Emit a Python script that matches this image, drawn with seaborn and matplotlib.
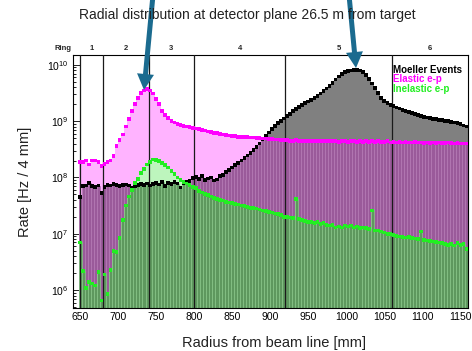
import numpy as np
import pandas as pd
import matplotlib
matplotlib.use("Agg")
import matplotlib.pyplot as plt
import seaborn as sns
from matplotlib.patches import FancyArrow
from matplotlib.transforms import IdentityTransform, blended_transform_factory
from matplotlib.ticker import FixedLocator, MultipleLocator, LogLocator, NullFormatter

sns.set_theme(style="white")
plt.rcParams["font.family"] = ["Liberation Sans", "DejaVu Sans"]
plt.rcParams["mathtext.fontset"] = "custom"
plt.rcParams["mathtext.rm"] = "Liberation Sans"
plt.rcParams["mathtext.it"] = "Liberation Sans:italic"
plt.rcParams["mathtext.bf"] = "Liberation Sans:bold"

# 4 mm radial bins, centres from 650 mm to 1158 mm
BIN_W = 4
radius = np.arange(650, 1160, BIN_W)
edges = list(np.append(radius - BIN_W / 2, radius[-1] + BIN_W / 2))

# Rates per bin [Hz / 4 mm]
moeller = np.array([
    4.5e7, 7.0e7, 7.2e7, 8.0e7, 7.0e7, 6.8e7, 7.2e7, 5.3e7,
    6.8e7, 7.4e7, 7.2e7, 7.6e7, 7.4e7, 7.0e7, 7.3e7, 7.5e7,
    7.2e7, 6.5e7, 7.0e7, 7.3e7, 7.6e7, 7.4e7, 7.8e7, 7.2e7,
    7.6e7, 8.0e7, 7.5e7, 8.2e7, 7.0e7, 8.0e7, 7.6e7, 8.4e7,
    7.8e7, 6.6e7, 8.0e7, 8.2e7, 8.6e7, 9.8e7, 1.02e8, 9.4e7,
    1.05e8, 9.0e7, 9.6e7, 1.0e8, 8.8e7, 9.2e7, 1.05e8, 1.12e8,
    1.25e8, 1.35e8, 1.5e8, 1.65e8, 1.8e8, 2.0e8, 2.2e8, 2.45e8,
    2.75e8, 3.1e8, 3.5e8, 4.0e8, 4.7e8, 5.4e8, 6.3e8, 7.2e8,
    8.2e8, 9.2e8, 1.02e9, 1.12e9, 1.25e9, 1.35e9, 1.5e9, 1.65e9,
    1.8e9, 1.95e9, 2.1e9, 2.25e9, 2.4e9, 2.6e9, 2.8e9, 3.1e9,
    3.4e9, 3.8e9, 4.2e9, 4.8e9, 5.5e9, 6.2e9, 6.9e9, 7.4e9,
    7.8e9, 8.0e9, 8.2e9, 8.2e9, 8.0e9, 7.5e9, 6.6e9, 5.6e9,
    4.7e9, 3.9e9, 3.2e9, 2.6e9, 2.3e9, 2.1e9, 1.95e9, 1.85e9,
    1.75e9, 1.67e9, 1.6e9, 1.52e9, 1.45e9, 1.38e9, 1.33e9, 1.28e9,
    1.24e9, 1.2e9, 1.16e9, 1.13e9, 1.1e9, 1.08e9, 1.06e9, 1.04e9,
    1.02e9, 1.0e9, 9.8e8, 9.5e8, 9.2e8, 8.8e8, 8.4e8, 8.0e8,
])

elastic = np.array([
    1.9e8, 1.9e8, 2.0e8, 1.7e8, 2.0e8, 2.0e8, 1.9e8, 1.6e8,
    1.75e8, 1.9e8, 2.0e8, 2.4e8, 3.6e8, 4.6e8, 5.8e8, 8.0e8,
    1.1e9, 1.5e9, 2.0e9, 2.6e9, 3.2e9, 3.5e9, 3.7e9, 3.5e9,
    3.1e9, 2.5e9, 2.0e9, 1.5e9, 1.3e9, 1.15e9, 1.02e9, 9.5e8,
    9.0e8, 8.6e8, 8.2e8, 8.0e8, 7.8e8, 7.6e8, 7.4e8, 7.2e8,
    7.0e8, 6.8e8, 6.6e8, 6.4e8, 6.2e8, 6.1e8, 6.0e8, 5.8e8,
    5.7e8, 5.6e8, 5.5e8, 5.4e8, 5.3e8, 5.3e8, 5.2e8, 5.2e8,
    5.1e8, 5.1e8, 5.0e8, 5.0e8, 4.9e8, 4.9e8, 4.8e8, 4.8e8,
    4.7e8, 4.7e8, 4.6e8, 4.6e8, 4.6e8, 4.5e8, 4.5e8, 4.6e8,
    4.5e8, 4.4e8, 4.5e8, 4.4e8, 4.5e8, 4.4e8, 4.5e8, 4.4e8,
    4.4e8, 4.5e8, 4.4e8, 4.4e8, 4.5e8, 4.3e8, 4.4e8, 4.4e8,
    4.3e8, 4.4e8, 4.4e8, 4.3e8, 4.4e8, 4.3e8, 4.4e8, 4.3e8,
    4.4e8, 4.3e8, 4.4e8, 4.3e8, 4.3e8, 4.4e8, 4.2e8, 4.3e8,
    4.2e8, 4.3e8, 4.2e8, 4.3e8, 4.2e8, 4.2e8, 4.3e8, 4.2e8,
    4.2e8, 4.1e8, 4.2e8, 4.1e8, 4.2e8, 4.1e8, 4.2e8, 4.1e8,
    4.1e8, 4.2e8, 4.1e8, 4.0e8, 4.1e8, 4.0e8, 4.0e8, 4.0e8,
])

inelastic = np.array([
    7.0e6, 2.2e6, 1.1e6, 1.4e6, 1.3e6, 1.2e6, 2.1e6, 6.5e5,
    1.9e6, 8.6e5, 2.3e6, 5.0e6, 4.7e6, 8.3e6, 1.75e7, 3.2e7,
    4.6e7, 6.0e7, 8.0e7, 9.5e7, 1.2e8, 1.4e8, 1.7e8, 1.9e8,
    2.1e8, 2.05e8, 1.95e8, 1.8e8, 1.66e8, 1.5e8, 1.3e8, 1.15e8,
    1.0e8, 9.0e7, 8.2e7, 7.8e7, 7.4e7, 6.8e7, 6.5e7, 5.8e7,
    5.4e7, 5.1e7, 4.9e7, 4.6e7, 4.3e7, 4.1e7, 4.0e7, 3.9e7,
    3.7e7, 3.6e7, 3.5e7, 3.4e7, 3.3e7, 3.2e7, 3.1e7, 3.0e7,
    2.9e7, 2.85e7, 2.8e7, 2.7e7, 2.6e7, 2.55e7, 2.45e7, 2.4e7,
    2.3e7, 2.25e7, 2.15e7, 2.0e7, 2.0e7, 1.95e7, 1.9e7, 4.2e7,
    1.85e7, 1.75e7, 1.7e7, 1.6e7, 1.6e7, 1.55e7, 1.6e7, 1.5e7,
    1.55e7, 1.45e7, 1.4e7, 1.45e7, 1.3e7, 1.35e7, 1.3e7, 1.4e7,
    1.35e7, 1.4e7, 1.3e7, 1.35e7, 1.25e7, 1.3e7, 1.25e7, 1.2e7,
    2.6e7, 1.15e7, 1.15e7, 1.1e7, 1.05e7, 1.0e7, 1.0e7, 9.6e6,
    9.2e6, 9.0e6, 8.8e6, 8.6e6, 8.8e6, 8.4e6, 8.2e6, 8.0e6,
    1.1e7, 7.8e6, 7.6e6, 7.4e6, 7.3e6, 7.2e6, 7.0e6, 6.9e6,
    6.6e6, 6.3e6, 6.5e6, 6.2e6, 6.8e6, 6.4e6, 6.6e6, 5.4e6,
])

ring_edges = [650, 680, 740, 800, 920, 1060]
ring_centres = [665, 710, 770, 860, 990, 1110]
ring_names = ["1", "2", "3", "4", "5", "6"]
x_ticks = [650, 700, 750, 800, 850, 900, 950, 1000, 1050, 1100, 1150]
legend_names = ["Moeller Events", "Elastic e-p", "Inelastic e-p"]
legend_colors = ["black", "#ff00ff", "#22ee22"]

W, H = 472, 351
fig = plt.figure(figsize=(W / 100, H / 100), dpi=100)
ax = fig.add_axes([72.5 / W, 1 - 308 / H, 395.5 / W, 253 / H])
ax.set_yscale("log")


def layer(values, color, element="step", edge=None, z=1):
    df = pd.DataFrame({"radius": radius, "rate": values})
    sns.histplot(data=df, x="radius", weights="rate", bins=edges, element=element,
                 fill=True, color=color, alpha=1,
                 linewidth=0.5 if edge else 0,
                 edgecolor=edge if edge else color, ax=ax, zorder=z)


# Overlapping filled histograms
layer(moeller, "#808080", z=1)
layer(elastic, "#ffb3ff", z=1.1)
layer(np.minimum(moeller, elastic), "#9a5a9a", element="bars", edge="#b47ab4", z=1.2)
layer(inelastic, "#bdf5bd", z=1.3)
layer(np.minimum(inelastic, moeller), "#5e985e", element="bars", edge="#88c488", z=1.4)

# Ring boundaries
for b in ring_edges:
    ax.axvline(b, color="#1a1a1a", lw=0.9, zorder=3)

# Bin markers
for vals, col, z in [(moeller, "black", 4), (elastic, "#ff00ff", 4.1), (inelastic, "#22ee22", 4.2)]:
    df = pd.DataFrame({"radius": radius, "rate": vals})
    sns.scatterplot(data=df, x="radius", y="rate", marker="s", s=7, color=col,
                    edgecolor="none", linewidth=0, ax=ax, zorder=z, legend=False)

ax.set_xlim(640, 1160)
ax.set_ylim(4.8e5, 1.5e10)
ax.set_xlabel("")
ax.set_ylabel("")

ax.xaxis.set_major_locator(FixedLocator(x_ticks))
ax.xaxis.set_minor_locator(MultipleLocator(10))
ax.yaxis.set_major_locator(LogLocator(base=10, numticks=20))
ax.yaxis.set_minor_locator(LogLocator(base=10, subs=np.arange(2, 10), numticks=20))
ax.yaxis.set_minor_formatter(NullFormatter())
ax.tick_params(which="both", direction="in", colors="black", width=0.6,
               bottom=True, left=True, top=False, right=False, labelsize=7.5)
ax.tick_params(which="major", length=5, pad=3)
ax.tick_params(which="minor", length=2.5)
for s in ax.spines.values():
    s.set_color("black")
    s.set_linewidth(0.8)

# Ring labels above the frame
trans = blended_transform_factory(ax.transData, ax.transAxes)
for c, n in zip(ring_centres, ring_names):
    ax.text(c, 1.024, n, transform=trans, ha="center", va="center",
            fontsize=5.5, fontweight="bold", clip_on=False)
fig.text(63 / W, 1 - 49 / H, "Ring", ha="center", va="center",
         fontsize=5.5, fontweight="bold")

# Series key
for k, (name, col) in enumerate(zip(legend_names, legend_colors)):
    ax.text(0.81, 0.941 - k * 0.037, name, transform=ax.transAxes,
            ha="left", va="center", fontsize=7, fontweight="bold",
            color=col, zorder=6)

fig.text(0.525, 1 - 15 / H, "Radial distribution at detector plane 26.5 m from target",
         ha="center", va="center", fontsize=10, color="#222222")
fig.text(274 / W, 1 - 343 / H, "Radius from beam line [mm]",
         ha="center", va="center", fontsize=10.5, color="#222222")
fig.text(25 / W, 1 - 182 / H, "Rate [Hz / 4 mm]", rotation=90,
         ha="center", va="center", fontsize=10.5, color="#222222")

# Pointer arrows
arrow_col = "#1b6b8f"
fig.add_artist(FancyArrow(153, 356, -9, -95, width=5, head_width=17, head_length=16,
                          length_includes_head=True, color=arrow_col, lw=0,
                          transform=IdentityTransform()))
fig.add_artist(FancyArrow(349, 356, 7, -73, width=5, head_width=17, head_length=16,
                          length_includes_head=True, color=arrow_col, lw=0,
                          transform=IdentityTransform()))

fig.savefig("out.png", dpi=100)
